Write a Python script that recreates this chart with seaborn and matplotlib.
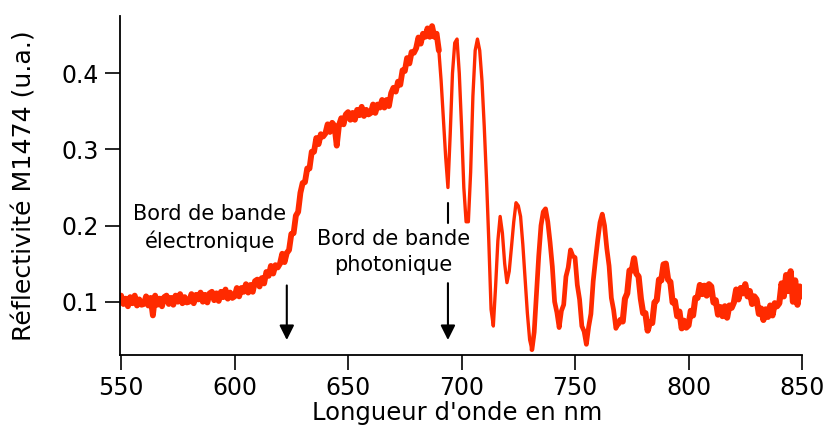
import numpy as np
import matplotlib
matplotlib.use("Agg")
import matplotlib.pyplot as plt
import seaborn as sns

# Reflectivity readings, one per nm from 550 to 850 nm
wavelength = np.arange(550, 851)
reflect = np.array([
    0.108, 0.097, 0.104, 0.094, 0.106, 0.098, 0.108, 0.095, 0.103, 0.096,  # 550
    0.097, 0.107, 0.095, 0.105, 0.082, 0.108, 0.096, 0.104, 0.094, 0.106,  # 560
    0.108, 0.097, 0.105, 0.096, 0.108, 0.100, 0.110, 0.098, 0.106, 0.099,  # 570
    0.100, 0.110, 0.098, 0.109, 0.103, 0.112, 0.100, 0.109, 0.099, 0.111,  # 580
    0.113, 0.102, 0.111, 0.101, 0.113, 0.106, 0.116, 0.104, 0.112, 0.105,  # 590
    0.107, 0.118, 0.107, 0.118, 0.113, 0.123, 0.112, 0.122, 0.113, 0.127,  # 600
    0.129, 0.120, 0.131, 0.124, 0.139, 0.134, 0.147, 0.137, 0.148, 0.145,  # 610
    0.150, 0.163, 0.152, 0.164, 0.168, 0.189, 0.190, 0.213, 0.218, 0.243,  # 620
    0.256, 0.257, 0.275, 0.275, 0.297, 0.297, 0.315, 0.307, 0.320, 0.317,  # 630
    0.321, 0.333, 0.323, 0.335, 0.331, 0.305, 0.332, 0.341, 0.333, 0.346,  # 640
    0.349, 0.339, 0.348, 0.339, 0.352, 0.345, 0.356, 0.344, 0.352, 0.346,  # 650
    0.348, 0.359, 0.348, 0.359, 0.355, 0.365, 0.355, 0.365, 0.357, 0.374,  # 660
    0.381, 0.376, 0.389, 0.385, 0.404, 0.403, 0.420, 0.413, 0.428, 0.427,  # 670
    0.433, 0.447, 0.439, 0.452, 0.448, 0.459, 0.448, 0.462, 0.448, 0.452,  # 680
    0.430, 0.390, 0.340, 0.290, 0.250, 0.320, 0.400, 0.440, 0.445, 0.400,  # 690
    0.330, 0.250, 0.205, 0.205, 0.270, 0.370, 0.430, 0.445, 0.430, 0.390,  # 700
    0.330, 0.260, 0.180, 0.090, 0.068, 0.120, 0.180, 0.212, 0.190, 0.150,  # 710
    0.125, 0.140, 0.172, 0.205, 0.230, 0.226, 0.212, 0.175, 0.130, 0.085,  # 720
    0.050, 0.037, 0.060, 0.110, 0.160, 0.200, 0.218, 0.222, 0.205, 0.178,  # 730
    0.146, 0.100, 0.086, 0.066, 0.088, 0.096, 0.133, 0.145, 0.168, 0.160,  # 740
    0.158, 0.122, 0.103, 0.068, 0.061, 0.044, 0.067, 0.084, 0.127, 0.155,  # 750
    0.181, 0.204, 0.215, 0.200, 0.170, 0.147, 0.105, 0.089, 0.065, 0.071,  # 760
    0.076, 0.074, 0.104, 0.111, 0.141, 0.141, 0.157, 0.137, 0.133, 0.104,  # 770
    0.085, 0.085, 0.062, 0.073, 0.072, 0.099, 0.102, 0.129, 0.128, 0.149,  # 780
    0.150, 0.129, 0.126, 0.099, 0.101, 0.081, 0.087, 0.065, 0.075, 0.066,  # 790
    0.069, 0.088, 0.082, 0.105, 0.105, 0.122, 0.110, 0.121, 0.108, 0.123,  # 800
    0.120, 0.099, 0.102, 0.083, 0.093, 0.081, 0.094, 0.079, 0.095, 0.092,  # 810
    0.099, 0.116, 0.103, 0.118, 0.111, 0.123, 0.107, 0.114, 0.097, 0.107,  # 820
    0.103, 0.084, 0.091, 0.076, 0.090, 0.080, 0.095, 0.082, 0.098, 0.094,  # 830
    0.098, 0.124, 0.107, 0.135, 0.114, 0.140, 0.100, 0.128, 0.096, 0.120, 0.107,  # 840
])

xticks = [550, 600, 650, 700, 750, 800, 850]
yticks = [0.1, 0.2, 0.3, 0.4]

# band edges marked with arrows
edge_elec = 623
edge_phot = 694

sns.set_style("ticks", {"text.color": "black", "axes.labelcolor": "black",
                        "xtick.color": "black", "ytick.color": "black",
                        "axes.edgecolor": "black"})
plt.rcParams["font.family"] = ["DejaVu Sans"]

fig = plt.figure(figsize=(8.24, 4.36), dpi=100)
ax = fig.add_axes([0.1456, 0.1858, 0.8277, 0.777])

# noisy parts of the spectrum look like a thicker band than the clean fringes
red = "#ff2a00"
pieces = [(550, 690, 4.2), (689, 732, 2.4), (731, 770, 3.4), (769, 850, 4.4)]
for lo, hi, lw in pieces:
    m = (wavelength >= lo) & (wavelength <= hi)
    sns.lineplot(x=wavelength[m], y=reflect[m], color=red, linewidth=lw,
                 estimator=None, ax=ax)

ax.set_xlim(549.5, 850)
ax.set_ylim(0.03, 0.475)
ax.set_xticks(xticks)
ax.set_yticks(yticks)
ax.tick_params(axis="both", labelsize=17, length=11, width=1.2, pad=4,
               color="black", labelcolor="black")
sns.despine(ax=ax)
for side in ["left", "bottom"]:
    ax.spines[side].set_linewidth(1.3)

ax.set_xlabel("Longueur d'onde en nm", fontsize=17.5, color="black")
ax.set_ylabel("Réflectivité M1474 (u.a.)", fontsize=18.2, color="black")
ax.xaxis.set_label_coords(0.494, -0.135)
ax.yaxis.set_label_coords(-0.122, 0.5)

# annotations
ax.text(589, 0.197, "Bord de bande\nélectronique", fontsize=15,
        ha="center", va="center", linespacing=1.35, color="black")
ax.annotate("", xy=(edge_elec, 0.046), xytext=(edge_elec, 0.125),
            arrowprops=dict(arrowstyle="-|>", color="black", lw=1.5,
                            mutation_scale=22))

ax.text(670, 0.165, "Bord de bande\nphotonique", fontsize=15,
        ha="center", va="center", linespacing=1.35, color="black")
ax.plot([edge_phot, edge_phot], [0.204, 0.229], color="black", lw=1.5)
ax.annotate("", xy=(edge_phot, 0.046), xytext=(edge_phot, 0.128),
            arrowprops=dict(arrowstyle="-|>", color="black", lw=1.5,
                            mutation_scale=22))

fig.savefig("out.png", dpi=100)
